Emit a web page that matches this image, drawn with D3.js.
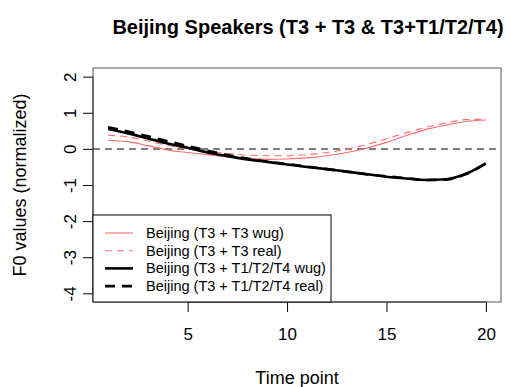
<!DOCTYPE html>
<html>
<head>
<meta charset="utf-8">
<script src="https://cdn.jsdelivr.net/npm/d3@7"></script>
<style>
  body { margin: 0; background: #fff; }
  text { font-family: "Liberation Sans", Arial, sans-serif; }
</style>
</head>
<body>
<svg id="chart" width="511" height="387"></svg>
<script>
// time points 1..20
var timePoints = d3.range(1, 21);

var t3WugVals  = [0.24, 0.20, 0.09, -0.03, -0.10, -0.16, -0.22, -0.26, -0.29, -0.28,
                  -0.25, -0.19, -0.10, 0.02, 0.18, 0.37, 0.54, 0.66, 0.76, 0.80];
var t3RealVals = [0.38, 0.33, 0.22, 0.10, 0.00, -0.07, -0.13, -0.17, -0.19, -0.19,
                  -0.16, -0.10, -0.01, 0.12, 0.28, 0.45, 0.60, 0.72, 0.81, 0.82];
var otherWugVals  = [0.55, 0.43, 0.29, 0.15, 0.03, -0.10, -0.20, -0.29, -0.36, -0.43,
                     -0.50, -0.56, -0.63, -0.70, -0.77, -0.82, -0.86, -0.84, -0.69, -0.40];
var otherRealVals = [0.60, 0.48, 0.35, 0.21, 0.08, -0.05, -0.17, -0.27, -0.35, -0.42,
                     -0.49, -0.56, -0.63, -0.70, -0.76, -0.81, -0.86, -0.85, -0.70, -0.40];

var seriesNames = ["Beijing (T3 + T3 wug)", "Beijing (T3 + T3 real)",
                   "Beijing (T3 + T1/T2/T4 wug)", "Beijing (T3 + T1/T2/T4 real)"];
var xTicks = [5, 10, 15, 20];
var yTicks = [-4, -3, -2, -1, 0, 1, 2];

var series = [
  { name: seriesNames[0], vals: t3WugVals,     color: "#ff6a6a", width: 1.1, dash: null },
  { name: seriesNames[1], vals: t3RealVals,    color: "#ff6a6a", width: 1.1, dash: "7,5" },
  { name: seriesNames[2], vals: otherWugVals,  color: "#000",    width: 2.6, dash: null },
  { name: seriesNames[3], vals: otherRealVals, color: "#000",    width: 2.6, dash: "10,7" }
];

var svg = d3.select("svg#chart");
var plotL = 93, plotR = 501, plotT = 68, plotB = 302;

// R style 4% padding
var x = d3.scaleLinear().domain([1 - 0.76, 20 + 0.76]).range([plotL, plotR]);
var y = d3.scaleLinear().domain([-4.24, 2.24]).range([plotB, plotT]);

svg.append("text")
   .attr("x", 308).attr("y", 34)
   .attr("text-anchor", "middle")
   .style("font-weight", "bold").style("font-size", "20px")
   .text("Beijing Speakers (T3 + T3 & T3+T1/T2/T4)");

// zero reference line
svg.append("line")
   .attr("x1", plotL).attr("x2", plotR)
   .attr("y1", y(0)).attr("y2", y(0))
   .attr("stroke", "#555").attr("stroke-width", 1.5)
   .attr("stroke-dasharray", "7,5");

var line = d3.line()
   .x(function(d, i) { return x(timePoints[i]); })
   .y(function(d) { return y(d); })
   .curve(d3.curveMonotoneX);

svg.append("g").selectAll("path")
   .data(series).enter().append("path")
   .attr("d", function(d) { return line(d.vals); })
   .attr("fill", "none")
   .attr("stroke", function(d) { return d.color; })
   .attr("stroke-width", function(d) { return d.width; })
   .attr("stroke-dasharray", function(d) { return d.dash; });

// axes
var xAxis = svg.append("g")
   .attr("transform", "translate(0," + plotB + ")")
   .call(d3.axisBottom(x).tickValues(xTicks).tickSize(10).tickPadding(16));
var yAxis = svg.append("g")
   .attr("transform", "translate(" + plotL + ",0)")
   .call(d3.axisLeft(y).tickValues(yTicks)
           .tickFormat(function(d) { return String(d); }).tickSize(10));

[xAxis, yAxis].forEach(function(a) {
  a.select(".domain").remove();
  a.selectAll("line").attr("stroke", "#000");
  a.selectAll("text").style("font-size", "17px").attr("fill", "#000")
   .style("font-family", "Liberation Sans, Arial, sans-serif");
});
xAxis.append("line").attr("x1", x(5)).attr("x2", x(20)).attr("stroke", "#000");
yAxis.append("line").attr("y1", y(-4)).attr("y2", y(2)).attr("stroke", "#000");

yAxis.selectAll(".tick text")
   .attr("x", 0).attr("y", 0).attr("dy", "0.36em")
   .attr("text-anchor", "middle")
   .attr("transform", "translate(-23,0) rotate(-90)");

// plot box
svg.append("rect")
   .attr("x", plotL).attr("y", plotT)
   .attr("width", plotR - plotL).attr("height", plotB - plotT)
   .attr("fill", "none").attr("stroke", "#555").attr("stroke-width", 1);

svg.append("text")
   .attr("x", 297).attr("y", 384)
   .attr("text-anchor", "middle").style("font-size", "18px")
   .text("Time point");

svg.append("text")
   .attr("transform", "translate(26,185) rotate(-90)")
   .attr("text-anchor", "middle").style("font-size", "18px")
   .text("F0 values (normalized)");

// legend
var legX = plotL, legY = 215, legW = 238, legH = plotB - 215;
var legend = svg.append("g");
legend.append("rect")
   .attr("x", legX).attr("y", legY).attr("width", legW).attr("height", legH)
   .attr("fill", "#fff").attr("stroke", "#000");
var item = legend.selectAll("g.item").data(series).enter().append("g")
   .attr("class", "item")
   .attr("transform", function(d, i) { return "translate(0," + (233 + i * 17.7) + ")"; });
item.append("line")
   .attr("x1", 105).attr("x2", 133)
   .attr("stroke", function(d) { return d.color; })
   .attr("stroke-width", function(d) { return d.width; })
   .attr("stroke-dasharray", function(d) { return d.dash; });
item.append("text")
   .attr("x", 146).attr("dy", "0.35em")
   .style("font-size", "14.5px")
   .text(function(d) { return d.name; });
</script>
</body>
</html>
